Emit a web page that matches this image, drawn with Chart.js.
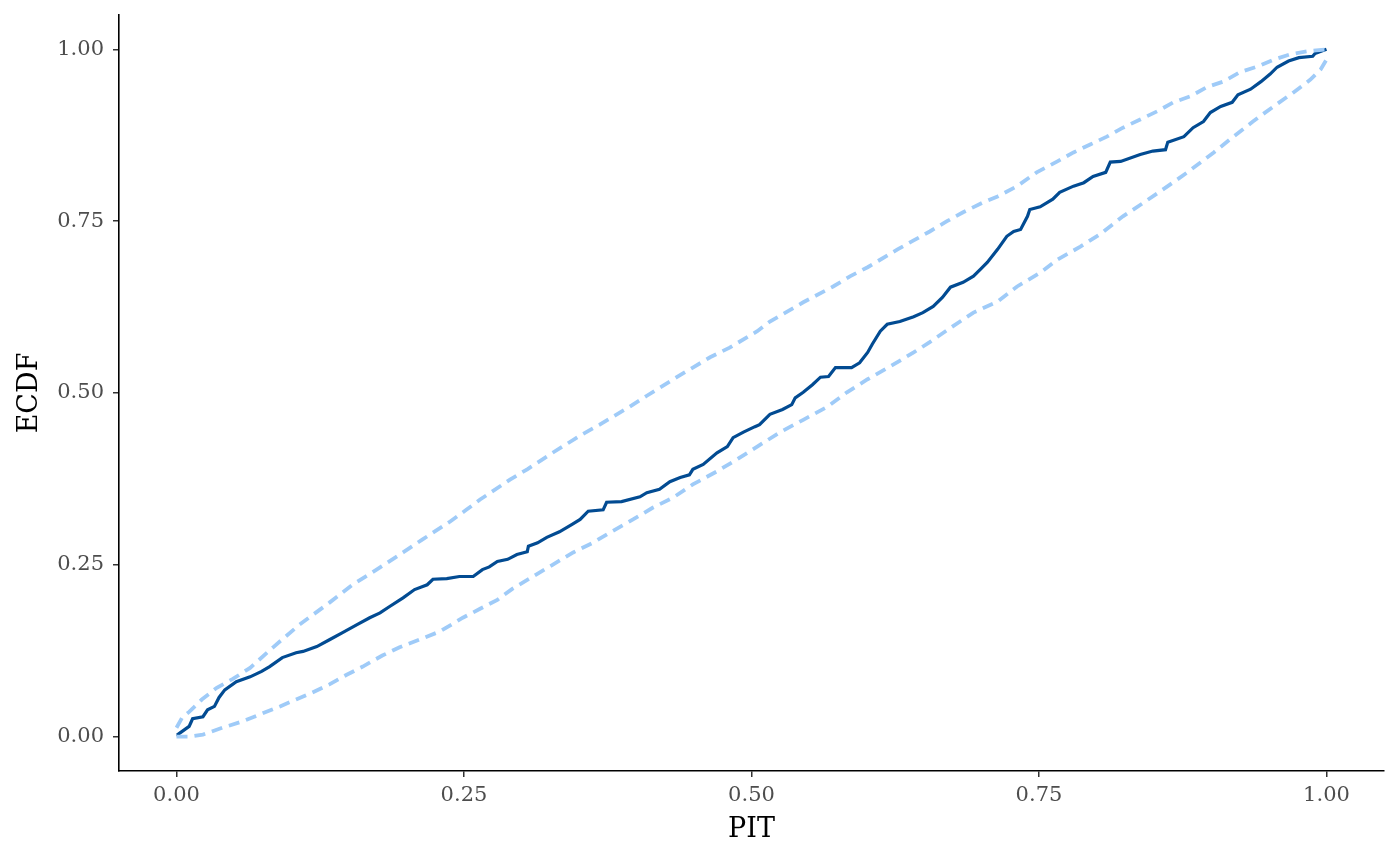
<!DOCTYPE html>
<html>
<head>
<meta charset="utf-8">
<title>PIT ECDF</title>
<script src="https://cdn.jsdelivr.net/npm/chart.js@4/dist/chart.umd.min.js"></script>
<style>
  html, body { margin: 0; padding: 0; background: #ffffff; }
  canvas { display: block; }
</style>
</head>
<body>
<canvas id="ecdfChart" width="1400" height="866"></canvas>
<script>
// values
const ecdfX = [0.000, 0.001, 0.011, 0.014, 0.023, 0.027, 0.033, 0.037, 0.042, 0.052, 0.064, 0.074, 0.081,
  0.092, 0.104, 0.110, 0.122, 0.133, 0.144, 0.157, 0.168, 0.177, 0.185, 0.197, 0.207, 0.218, 0.223,
  0.235, 0.246, 0.258, 0.266, 0.272, 0.279, 0.288, 0.296, 0.305, 0.306, 0.314, 0.322, 0.333, 0.344,
  0.351, 0.358, 0.371, 0.374, 0.387, 0.403, 0.409, 0.420, 0.429, 0.438, 0.446, 0.449, 0.458, 0.470,
  0.479, 0.484, 0.493, 0.503, 0.507, 0.516, 0.527, 0.535, 0.538, 0.545, 0.553, 0.560, 0.567, 0.573,
  0.587, 0.594, 0.601, 0.605, 0.612, 0.618, 0.629, 0.641, 0.649, 0.658, 0.666, 0.673, 0.684, 0.693,
  0.699, 0.705, 0.714, 0.722, 0.728, 0.734, 0.740, 0.742, 0.751, 0.762, 0.768, 0.780, 0.789, 0.797,
  0.808, 0.812, 0.821, 0.838, 0.849, 0.860, 0.862, 0.876, 0.884, 0.893, 0.899, 0.908, 0.918, 0.923,
  0.934, 0.943, 0.951, 0.957, 0.967, 0.976, 0.988, 0.990, 1.000];
const ecdfY = [0.003, 0.003, 0.015, 0.026, 0.029, 0.039, 0.044, 0.057, 0.068, 0.080, 0.087, 0.095, 0.102,
  0.115, 0.122, 0.124, 0.131, 0.141, 0.151, 0.163, 0.173, 0.180, 0.189, 0.202, 0.214, 0.221, 0.229,
  0.230, 0.233, 0.233, 0.243, 0.247, 0.255, 0.258, 0.265, 0.269, 0.277, 0.282, 0.290, 0.298, 0.309,
  0.316, 0.328, 0.330, 0.341, 0.342, 0.349, 0.355, 0.360, 0.371, 0.377, 0.381, 0.389, 0.396, 0.413,
  0.422, 0.435, 0.443, 0.451, 0.454, 0.469, 0.476, 0.483, 0.493, 0.501, 0.512, 0.523, 0.524, 0.537,
  0.537, 0.544, 0.559, 0.571, 0.590, 0.600, 0.604, 0.611, 0.617, 0.626, 0.639, 0.654, 0.661, 0.670,
  0.680, 0.690, 0.709, 0.728, 0.735, 0.738, 0.757, 0.767, 0.771, 0.782, 0.792, 0.801, 0.806, 0.815,
  0.821, 0.836, 0.837, 0.847, 0.852, 0.854, 0.865, 0.873, 0.886, 0.895, 0.908, 0.917, 0.923, 0.934,
  0.942, 0.953, 0.964, 0.974, 0.983, 0.988, 0.990, 0.994, 1.000];

const upperX = [0.000, 0.005, 0.011, 0.022, 0.035, 0.049, 0.064, 0.084, 0.107, 0.133, 0.153, 0.174, 0.197,
  0.214, 0.238, 0.252, 0.264, 0.290, 0.305, 0.327, 0.353, 0.368, 0.394, 0.409, 0.435, 0.449, 0.464,
  0.481, 0.505, 0.516, 0.545, 0.571, 0.586, 0.601, 0.627, 0.641, 0.655, 0.670, 0.684, 0.701, 0.714,
  0.731, 0.748, 0.766, 0.780, 0.795, 0.809, 0.823, 0.838, 0.853, 0.867, 0.882, 0.896, 0.910, 0.925,
  0.940, 0.954, 0.969, 0.983, 1.000];
const upperY = [0.013, 0.028, 0.036, 0.054, 0.071, 0.084, 0.100, 0.130, 0.163, 0.195, 0.221, 0.243, 0.268,
  0.287, 0.313, 0.330, 0.345, 0.374, 0.389, 0.413, 0.440, 0.454, 0.480, 0.496, 0.523, 0.537, 0.552,
  0.566, 0.590, 0.604, 0.632, 0.655, 0.670, 0.683, 0.709, 0.722, 0.735, 0.750, 0.763, 0.777, 0.786,
  0.801, 0.821, 0.837, 0.850, 0.862, 0.873, 0.886, 0.898, 0.910, 0.923, 0.932, 0.945, 0.953, 0.967,
  0.975, 0.985, 0.993, 0.997, 1.000];

const lowerX = [0.000, 0.011, 0.023, 0.040, 0.057, 0.072, 0.090, 0.104, 0.118, 0.133, 0.148, 0.162, 0.179,
  0.194, 0.211, 0.229, 0.249, 0.264, 0.279, 0.292, 0.310, 0.327, 0.345, 0.362, 0.377, 0.397, 0.414,
  0.432, 0.449, 0.470, 0.487, 0.505, 0.525, 0.545, 0.566, 0.583, 0.601, 0.621, 0.641, 0.655, 0.675,
  0.693, 0.714, 0.731, 0.751, 0.766, 0.786, 0.803, 0.823, 0.841, 0.862, 0.879, 0.902, 0.919, 0.936,
  0.954, 0.971, 0.986, 0.995, 1.000];
const lowerY = [0.000, 0.000, 0.003, 0.013, 0.022, 0.032, 0.044, 0.054, 0.064, 0.076, 0.090, 0.102, 0.118,
  0.130, 0.141, 0.153, 0.173, 0.186, 0.199, 0.215, 0.233, 0.250, 0.268, 0.282, 0.297, 0.316, 0.333,
  0.348, 0.367, 0.386, 0.403, 0.422, 0.443, 0.461, 0.480, 0.501, 0.520, 0.539, 0.559, 0.574, 0.597,
  0.617, 0.633, 0.655, 0.675, 0.694, 0.713, 0.731, 0.757, 0.777, 0.801, 0.821, 0.850, 0.873, 0.895,
  0.917, 0.937, 0.956, 0.971, 0.985];

const xTicks = [0, 0.25, 0.5, 0.75, 1];
const yTicks = [0, 0.25, 0.5, 0.75, 1];

function toPoints(xs, ys) {
  return xs.map(function (x, i) { return { x: x, y: ys[i] }; });
}

const serif = "'DejaVu Serif', 'Liberation Serif', serif";

let ctx = document.getElementById("ecdfChart").getContext("2d");
new Chart(ctx, {
  type: "line",
  data: {
    datasets: [
      {
        label: "upper",
        data: toPoints(upperX, upperY),
        borderColor: "#9fcbf8",
        borderWidth: 3.8,
        borderDash: [11, 7],
        pointRadius: 0,
        fill: false
      },
      {
        label: "lower",
        data: toPoints(lowerX, lowerY),
        borderColor: "#9fcbf8",
        borderWidth: 3.8,
        borderDash: [11, 7],
        pointRadius: 0,
        fill: false
      },
      {
        label: "ECDF",
        data: toPoints(ecdfX, ecdfY),
        borderColor: "#024b92",
        borderWidth: 3.2,
        pointRadius: 0,
        fill: false
      }
    ]
  },
  options: {
    responsive: false,
    animation: false,
    devicePixelRatio: 1,
    layout: { padding: { top: 15, right: 16, left: 0, bottom: 0 } },
    plugins: {
      legend: { display: false },
      tooltip: { enabled: false }
    },
    scales: {
      x: {
        type: "linear",
        min: -0.05,
        max: 1.05,
        afterBuildTicks: function (scale) {
          scale.ticks = xTicks.map(function (v) { return { value: v }; });
        },
        afterFit: function (scale) {
          scale.height = 95;
          scale.paddingLeft = 0;
          scale.paddingRight = 0;
        },
        grid: { drawOnChartArea: false, drawTicks: true, tickLength: 6, color: "#333333", lineWidth: 1.5 },
        border: { display: true, color: "#000000", width: 1.6 },
        ticks: {
          padding: 6,
          color: "#4d4d4d",
          font: { family: serif, size: 21 },
          callback: function (v) { return Number(v).toFixed(2); }
        },
        title: {
          display: true,
          text: "PIT",
          color: "#000000",
          font: { family: serif, size: 27 },
          padding: { top: 0, bottom: 20 }
        }
      },
      y: {
        type: "linear",
        min: -0.05,
        max: 1.05,
        afterBuildTicks: function (scale) {
          scale.ticks = yTicks.map(function (v) { return { value: v }; });
        },
        afterFit: function (scale) {
          scale.width = 119;
          scale.paddingTop = 0;
          scale.paddingBottom = 0;
        },
        grid: { drawOnChartArea: false, drawTicks: true, tickLength: 6, color: "#333333", lineWidth: 1.5 },
        border: { display: true, color: "#000000", width: 1.6 },
        ticks: {
          padding: 9,
          color: "#4d4d4d",
          font: { family: serif, size: 21 },
          callback: function (v) { return Number(v).toFixed(2); }
        },
        title: {
          display: true,
          text: "ECDF",
          color: "#000000",
          font: { family: serif, size: 27 },
          padding: { top: 14, bottom: 0 }
        }
      }
    }
  }
});
</script>
</body>
</html>
